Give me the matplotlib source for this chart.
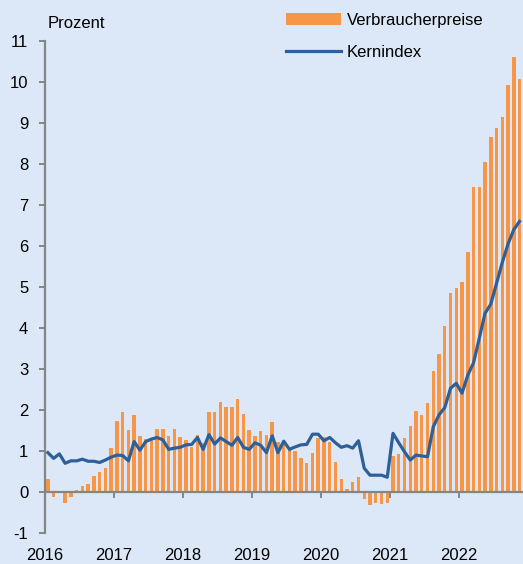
import matplotlib.pyplot as plt
from matplotlib.patches import Patch
from matplotlib.lines import Line2D

plt.rcParams['font.family'] = ['Liberation Sans', 'DejaVu Sans']
plt.rcParams['axes.unicode_minus'] = False

# monthly values, Jan 2016 - Nov 2022
verbraucherpreise = [
    0.32, -0.13, -0.03, -0.26, -0.13, 0.05, 0.15, 0.20, 0.38, 0.49, 0.58, 1.08,
    1.72, 1.94, 1.52, 1.89, 1.37, 1.30, 1.30, 1.54, 1.54, 1.37, 1.53, 1.33,
    1.28, 1.10, 1.38, 1.20, 1.94, 1.94, 2.19, 2.07, 2.07, 2.28, 1.90, 1.51,
    1.37, 1.49, 1.39, 1.71, 1.23, 1.23, 1.10, 1.00, 0.82, 0.70, 0.94, 1.32,
    1.33, 1.21, 0.74, 0.31, 0.08, 0.24, 0.37, -0.18, -0.32, -0.28, -0.29, -0.28,
    0.89, 0.93, 1.32, 1.61, 1.98, 1.89, 2.16, 2.95, 3.36, 4.05, 4.86, 4.97,
    5.11, 5.86, 7.44, 7.43, 8.05, 8.65, 8.89, 9.14, 9.93, 10.62, 10.07,
]
kernindex = [
    0.96, 0.82, 0.93, 0.70, 0.76, 0.76, 0.80, 0.75, 0.75, 0.72, 0.78, 0.85,
    0.90, 0.89, 0.76, 1.23, 1.02, 1.23, 1.29, 1.33, 1.27, 1.04, 1.07, 1.09,
    1.15, 1.16, 1.33, 1.04, 1.40, 1.17, 1.32, 1.23, 1.14, 1.33, 1.09, 1.04,
    1.20, 1.14, 0.96, 1.37, 0.96, 1.24, 1.04, 1.10, 1.15, 1.16, 1.41, 1.41,
    1.25, 1.33, 1.20, 1.09, 1.13, 1.07, 1.25, 0.58, 0.41, 0.41, 0.41, 0.36,
    1.43, 1.20, 0.98, 0.78, 0.90, 0.88, 0.86, 1.59, 1.88, 2.06, 2.53, 2.65,
    2.41, 2.85, 3.15, 3.75, 4.36, 4.58, 5.09, 5.60, 6.05, 6.40, 6.60,
]
jahre = ["2016", "2017", "2018", "2019", "2020", "2021", "2022"]

bg = "#dce8f7"
orange = "#f79646"
blau = "#2f5f98"
grau = "#858585"

fig = plt.figure(figsize=(5.23, 5.64), dpi=100, facecolor=bg)
ax = fig.add_axes([45 / 523, 31 / 564, 478 / 523, 492 / 564], facecolor=bg)

x = list(range(len(verbraucherpreise)))
ax.bar(x, verbraucherpreise, width=0.6, color=orange, zorder=2)
ax.plot(range(len(kernindex)), kernindex, color=blau, lw=2.3, zorder=3)

ax.set_xlim(-0.5, 82.6)
ax.set_ylim(-1, 11)
ax.set_yticks(range(-1, 12))
ax.set_xticks([12 * k - 0.5 for k in range(len(jahre))])
ax.set_xticklabels(jahre)

for s in ["top", "right"]:
    ax.spines[s].set_visible(False)
ax.spines["left"].set_color(grau)
ax.spines["left"].set_linewidth(1.6)
ax.spines["bottom"].set_color(grau)
ax.spines["bottom"].set_linewidth(1.6)
ax.spines["bottom"].set_position(("data", 0))
ax.spines["bottom"].set_zorder(4)

ax.tick_params(axis="y", length=4, width=1.4, color=grau, pad=8, labelsize=12)
ax.tick_params(axis="x", length=4, width=1.4, color=grau, pad=36, labelsize=12)

fig.text(48 / 523, 1 - 23 / 564, "Prozent", fontsize=12, va="center", ha="left")

handles = [Patch(facecolor=orange, edgecolor="none"),
           Line2D([0], [0], color=blau, lw=2.3)]
fig.legend(handles, ["Verbraucherpreise", "Kernindex"], loc="upper left",
           bbox_to_anchor=(286 / 523, 1 - 13 / 564), frameon=False, fontsize=12,
           handlelength=3.3, handleheight=0.7, handletextpad=0.35,
           labelspacing=1.0, borderpad=0, borderaxespad=0)

plt.savefig("out.png", facecolor=bg)
